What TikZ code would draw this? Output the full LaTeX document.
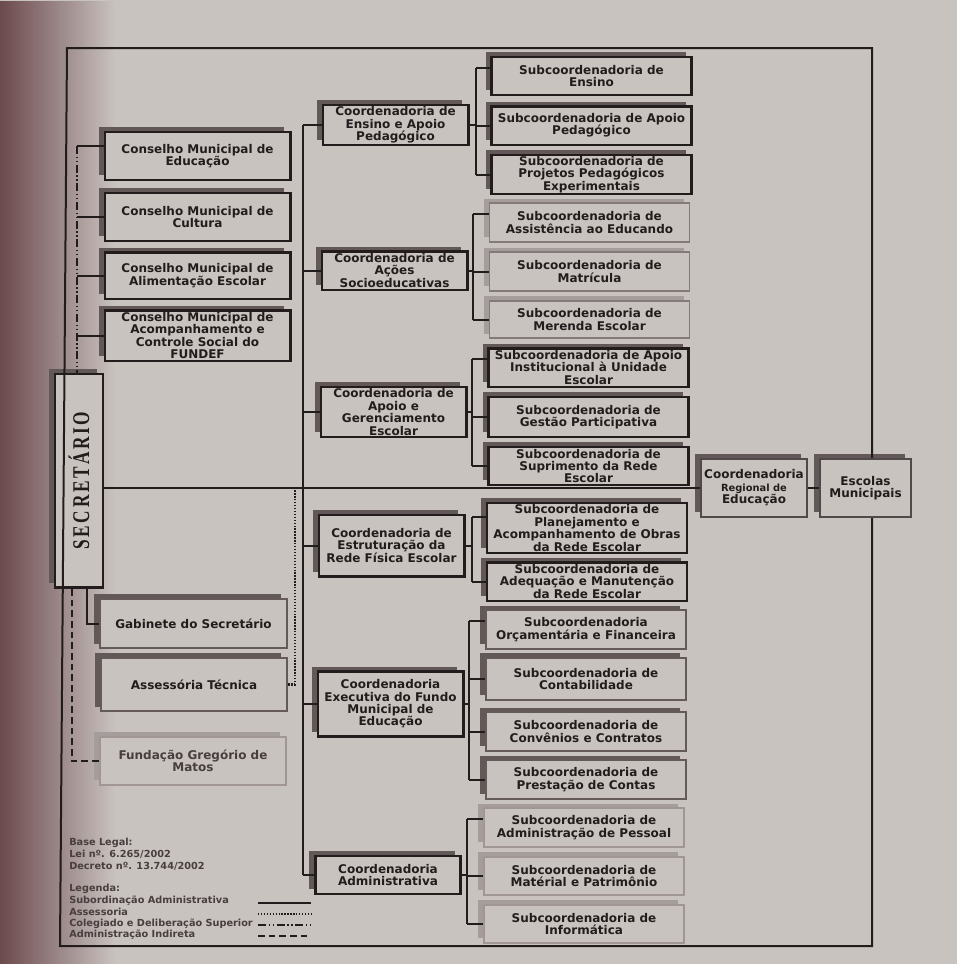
\documentclass[tikz,border=0pt]{standalone}
\usepackage{fontspec}
\setmainfont{DejaVu Sans}
\newfontfamily\secfont[LetterSpace=15]{Liberation Serif}
\usetikzlibrary{shadows,calc,fadings}

\definecolor{paper}{RGB}{201,195,192}
\definecolor{edge}{RGB}{108,74,78}
\definecolor{ink}{RGB}{35,28,28}
\definecolor{legink}{RGB}{72,62,62}
\definecolor{shdark}{RGB}{98,88,88}
\definecolor{shlight}{RGB}{165,157,155}
\definecolor{midline}{RGB}{100,90,90}
\definecolor{lightline}{RGB}{132,122,122}
\definecolor{paleline}{RGB}{160,150,150}

\tikzset{
  darkshadow/.style={drop shadow={shadow xshift=-4.5pt, shadow yshift=3.5pt, fill=shdark, opacity=1}},
  lightshadow/.style={drop shadow={shadow xshift=-4.5pt, shadow yshift=3.5pt, fill=shlight, opacity=1}},
  box/.style={draw=ink, line width=2pt, fill=paper, text=ink, align=center, inner sep=1pt,
    font=\bfseries\fontsize{9}{9.3}\selectfont},
  darkbox/.style={box, darkshadow},
  midbox/.style={box, draw=midline, line width=1.6pt, darkshadow},
  lightbox/.style={box, draw=lightline, line width=1.4pt, lightshadow},
  palebox/.style={box, draw=paleline, line width=1.3pt, lightshadow},
  subbox/.style={minimum width=150pt},
  coordbox/.style={darkbox, minimum width=109pt},
  consbox/.style={darkbox, minimum width=139pt},
  legtext/.style={anchor=west, inner sep=0pt, text=legink, font=\bfseries\fontsize{7.3}{8}\selectfont},
  subord/.style={draw=ink, line width=1.5pt},
  assess/.style={draw=ink, line width=2pt, dash pattern=on 1pt off 1.2pt},
  coleg/.style={draw=ink, line width=1.5pt, dash pattern=on 6pt off 2pt on 1pt off 2pt on 1pt off 2pt},
  indir/.style={draw=ink, line width=1.5pt, dash pattern=on 5pt off 3pt},
}

\begin{document}
\begin{tikzpicture}[x=0.75pt,y=0.75pt,yscale=-1,xscale=1]

% page
\fill[paper] (0,0) rectangle (957,964);
\fill[edge, path fading=east] (0,0) rectangle (115,964);
\useasboundingbox (0,0) rectangle (957,964);

% Secretario
\node[darkbox, minimum width=36pt, minimum height=160pt] (sec) at (79,480.5)
  {\rotatebox{90}{\scalebox{0.72}[1]{\secfont\bfseries\fontsize{18}{18}\selectfont SECRET\'ARIO}}};

% Conselhos
\node[consbox, minimum height=36pt] (cme) at (197.5,156) {Conselho Municipal de\\Educação};
\node[consbox, minimum height=36pt] (cmc) at (197.5,217) {Conselho Municipal de\\Cultura};
\node[consbox, minimum height=35pt] (cmae) at (197.5,275.5) {Conselho Municipal de\\Alimentação Escolar};
\node[consbox, minimum height=38pt] (cmf) at (197.5,335.5) {Conselho Municipal de\\Acompanhamento e\\Controle Social do\\FUNDEF};

% Gabinete, Assessoria, Fundacao
\node[midbox, minimum width=140pt, minimum height=37pt] (gab) at (193.5,623.5) {Gabinete do Secretário};
\node[midbox, minimum width=140pt, minimum height=40pt] (ast) at (194,684.5) {Assessória Técnica};
\node[palebox, text=legink, minimum width=140pt, minimum height=36pt] (fgm) at (193,761) {Fundação Gregório de\\Matos};

% Coordenadorias
\node[coordbox, minimum height=30pt] (ceap) at (395.5,125) {Coordenadoria de\\Ensino e Apoio\\Pedagógico};
\node[coordbox, minimum height=29pt] (cas) at (394.5,270.5) {Coordenadoria de\\Ações\\Socioeducativas};
\node[coordbox, minimum height=37.5pt] (cage) at (393.5,412) {Coordenadoria de\\Apoio e\\Gerenciamento\\Escolar};
\node[coordbox, minimum height=46pt] (cerf) at (391.5,545.5) {Coordenadoria de\\Estruturação da\\Rede Física Escolar};
\node[coordbox, minimum height=49pt] (cefme) at (390.5,704) {Coordenadoria\\Executiva do Fundo\\Municipal de\\Educação};
\node[coordbox, minimum height=28.5pt] (cad) at (388,875) {Coordenadoria\\Administrativa};

% Subcoordenadorias
\node[darkbox, subbox, minimum height=28.5pt] (sen) at (591.5,76) {Subcoordenadoria de\\Ensino};
\node[darkbox, subbox, minimum height=29pt] (sap) at (591.5,125.5) {Subcoordenadoria de Apoio\\Pedagógico};
\node[darkbox, subbox, minimum height=29pt] (spp) at (591.5,174.5) {Subcoordenadoria de\\Projetos Pedagógicos\\Experimentais};

\node[lightbox, subbox, minimum height=29pt] (sae) at (589.5,222.5) {Subcoordenadoria de\\Assistência ao Educando};
\node[lightbox, subbox, minimum height=29pt] (smat) at (589.5,271.5) {Subcoordenadoria de\\Matrícula};
\node[lightbox, subbox, minimum height=28pt] (smer) at (589.5,319.5) {Subcoordenadoria de\\Merenda Escolar};

\node[darkbox, subbox, minimum height=29pt] (sai) at (588.5,367.5) {Subcoordenadoria de Apoio\\Institucional à Unidade\\Escolar};
\node[darkbox, subbox, minimum height=30pt] (sgp) at (588.5,417) {Subcoordenadoria de\\Gestão Participativa};
\node[darkbox, subbox, minimum height=28.5pt] (ssr) at (588.5,466) {Subcoordenadoria de\\Suprimento da Rede\\Escolar};

\node[darkbox, subbox, minimum height=37.5pt] (spa) at (587,528) {Subcoordenadoria de\\Planejamento e\\Acompanhamento de Obras\\da Rede Escolar};
\node[darkbox, subbox, minimum height=29pt] (sam) at (587,581.5) {Subcoordenadoria de\\Adequação e Manutenção\\da Rede Escolar};

\node[midbox, subbox, minimum height=29pt] (sof) at (586,629.5) {Subcoordenadoria\\Orçamentária e Financeira};
\node[midbox, subbox, minimum height=31.5pt] (sct) at (586,679) {Subcoordenadoria de\\Contabilidade};
\node[midbox, subbox, minimum height=29pt] (scc) at (586,731.5) {Subcoordenadoria de\\Convênios e Contratos};
\node[midbox, subbox, minimum height=29pt] (spc) at (586,779.5) {Subcoordenadoria de\\Prestação de Contas};

\node[palebox, subbox, minimum height=29pt] (sadp) at (584,827.5) {Subcoordenadoria de\\Administração de Pessoal};
\node[palebox, subbox, minimum height=28.5pt] (smp) at (584,876) {Subcoordenadoria de\\Matérial e Patrimônio};
\node[palebox, subbox, minimum height=28.5pt] (sinf) at (584,924) {Subcoordenadoria de\\Informática};

% Regional, Escolas
\node[midbox, draw=ink!80, minimum width=79.5pt, minimum height=43.5pt] (creg) at (754,488)
  {Coordenadoria\\{\fontsize{7.4}{8}\selectfont Regional de}\\Educação};
\node[midbox, draw=ink!80, minimum width=68pt, minimum height=43.5pt] (esc) at (865.5,488) {Escolas\\Municipais};

% frame
\coordinate (frtl) at (67,48);
\coordinate (frtr) at (872,48);
\coordinate (frbr) at (872,946);
\coordinate (frbl) at (60,946);
\draw[subord] (esc.north -| frtr) -- (frtr) -- (frtl) -- (frbl) -- (frbr) -- (esc.south -| frbr);

% Colegiado lines
\coordinate (colx) at (77,0);
\coordinate (cmein) at ($(cme.north west)!.3!(cme.south west)$);
\draw[coleg] (cmein -| colx) -- (sec.north -| colx);
\draw[subord] (cmein) -- (cmein -| colx);
\foreach \c in {cmc,cmae,cmf}
  \draw[subord] (\c.west) -- (\c.west -| colx);

% Secretario links
\coordinate (gabx) at (87,0);
\coordinate (fgmx) at (72,0);
\coordinate (astx) at (295,0);
\draw[subord] (gab.west) -| (sec.south -| gabx);
\draw[indir] (fgm.west) -| (sec.south -| fgmx);
\draw[subord] (sec.east |- creg.west) -- (creg.west);
\draw[assess] (ast.east) -| (creg.west -| astx);
\draw[subord] (creg.east) -- (esc.west);

% trunk
\coordinate (trx) at (303,0);
\draw[subord] (ceap.west -| trx) -- (cad.west -| trx);
\foreach \c in {ceap,cas,cage,cerf,cefme,cad}
  \draw[subord] (\c.west) -- (\c.west -| trx);

% brackets
\foreach \co/\bx/\first/\rest/\last in {ceap/476/sen/{sap,spp}/spp, cas/473/sae/{smat,smer}/smer,
    cage/472/sai/{sgp,ssr}/ssr, cerf/472/spa/{sam}/sam, cefme/469/sof/{sct,scc,spc}/spc,
    cad/467/sadp/{smp,sinf}/sinf}{
  \coordinate (bx) at (\bx,0);
  \coordinate (fin) at ($(\first.north west)!.3!(\first.south west)$);
  \draw[subord] (\co.east) -- (\co.east -| bx);
  \draw[subord] (fin -| bx) -- (\last.west -| bx);
  \draw[subord] (fin) -- (fin -| bx);
  \foreach \s in \rest
    \draw[subord] (\s.west) -- (\s.west -| bx);
}

% Base legal, legenda
\foreach \t [count=\i] in {Base Legal:, Lei nº. 6.265/2002, Decreto nº. 13.744/2002}
  \node[legtext] (base\i) at (69,831.5+11.5*\i) {\t};
\node[legtext] (leg0) at (69,889) {Legenda:};
\foreach \t/\st [count=\i] in {Subordinação Administrativa/subord, Assessoria/assess,
    Colegiado e Deliberação Superior/coleg, Administração Indireta/indir}{
  \node[legtext] (leg\i) at (69,889+11.5*\i) {\t};
  \coordinate (la\i) at (258,892+11*\i);
  \coordinate (lb\i) at (311,892+11*\i);
  \draw[\st] (la\i) -- (lb\i);
}

\end{tikzpicture}
\end{document}
